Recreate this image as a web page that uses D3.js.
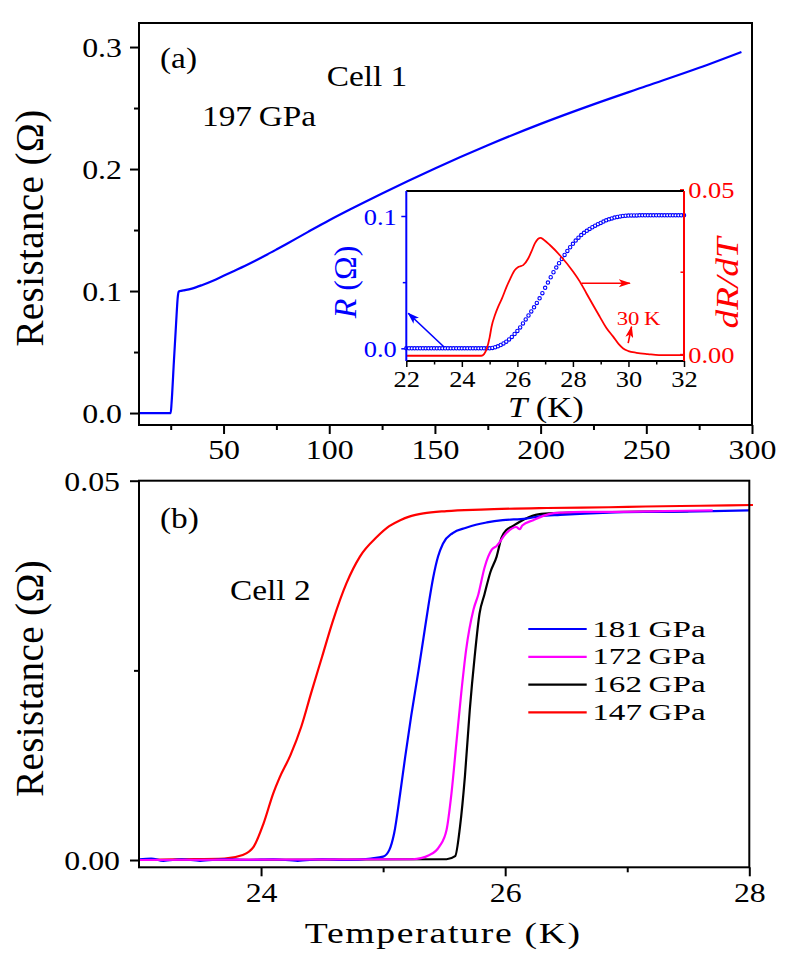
<!DOCTYPE html>
<html><head><meta charset="utf-8">
<script src="https://cdn.jsdelivr.net/npm/d3@7"></script>
<style>body{margin:0;background:#fff}svg{display:block}</style>
</head><body>
<svg id="chart" width="786" height="956"></svg>
<script>
// ---------- DATA ----------
// Panel (a) main curve, Cell 1, 197 GPa
const mainT = [10,25.0,25.4,26.5,27.5,28.4,28.8,29.5,31,35,40,45,50,55,60,65,70,75,80,90,100,110,125,150,175,200,225,250,275,295];
const mainR = [0,0,0.008,0.042,0.072,0.096,0.0995,0.1,0.1005,0.1020,0.1050,0.1085,0.1125,0.1165,0.1205,0.1248,0.1293,0.1340,0.1388,0.1485,0.1580,0.1670,0.1800,0.2005,0.2195,0.2370,0.2530,0.2680,0.2830,0.2960];
const aXTicks = [50,100,150,200,250,300];
const aXMinor = [25,75,125,175,225,275];
const aYTicks = [0,0.1,0.2,0.3];
const aYMinor = [0.05,0.15,0.25];

// Inset: R(T) points and dR/dT
const insetT = [22.0,22.1,22.2,22.3,22.4,22.5,22.6,22.7,22.8,22.9,23.0,23.1,23.2,23.3,23.4,23.5,23.6,23.7,23.8,23.9,24.0,24.1,24.2,24.3,24.4,24.5,24.6,24.7,24.8,24.9,25.0,
  25.1,25.2,25.3,25.4,25.5,25.6,25.7,25.8,25.9,26.0,26.1,26.2,26.3,26.4,26.5,26.6,26.7,26.8,26.9,27.0,27.1,27.2,27.3,27.4,27.5,27.6,27.7,27.8,27.9,28.0,
  28.1,28.2,28.3,28.4,28.5,28.6,28.7,28.8,28.9,29.0,29.1,29.2,29.3,29.4,29.5,29.6,29.7,29.8,29.9,30.0,
  30.1,30.2,30.3,30.4,30.5,30.6,30.7,30.8,30.9,31.0,31.1,31.2,31.3,31.4,31.5,31.6,31.7,31.8,31.9,32.0];
const insetR = [0,0,0,0,0,0,0,0,0,0,0,0,0,0,0,0,0,0,0,0,0,0,0,0,0,0,0,0,0,0,0,
  0.0003,0.0008,0.0015,0.0025,0.0037,0.0050,0.0067,0.0086,0.0108,0.0131,0.0158,0.0188,0.0218,0.0248,0.0279,0.0310,0.0343,0.0378,0.0417,0.0457,0.0497,0.0537,0.0575,0.0610,0.0643,0.0675,0.0706,0.0736,0.0764,0.0790,
  0.0814,0.0836,0.0856,0.0873,0.0888,0.0902,0.0915,0.0927,0.0938,0.0948,0.0958,0.0967,0.0975,0.0982,0.0988,0.0993,0.0997,0.1000,0.1002,0.1003,
  0.1004,0.1004,0.1004,0.1005,0.1005,0.1005,0.1005,0.1005,0.1005,0.1005,0.1005,0.1005,0.1005,0.1005,0.1005,0.1005,0.1005,0.1005,0.1005,0.1005];
const dRdT_T = [22,24.7,24.8,24.9,25.0,25.07,25.2,25.31,25.45,25.61,25.75,25.91,26.05,26.21,26.39,26.5,26.63,26.75,26.83,26.95,27.17,27.53,28.01,28.25,28.49,28.75,28.97,29.2,29.45,29.65,29.81,30.0,30.29,30.7,31.1,32];
const dRdT_V = [-0.0005,-0.0005,0,0.0017,0.005,0.0083,0.012,0.0144,0.017,0.0204,0.023,0.0255,0.0265,0.027,0.029,0.031,0.0336,0.035,0.0353,0.0347,0.0331,0.030,0.025,0.022,0.0184,0.0145,0.0113,0.008,0.0053,0.003,0.0017,0.0009,0.0004,0,-0.0003,-0.0003];
const iXTicks = [22,24,26,28,30,32];
const iXMinor = [23,25,27,29,31];
const iLTicks = [0,0.1], iLMinor = [0.05];
const iRTicks = [0,0.05], iRMinor = [0.025];
// annotation arrows in data units [T, value]
const arrows = [
  {from:[23.37,0.0008], to:[22.07,0.0265], side:"L", color:"#0000ff"},
  {from:[28.31,0.0215], to:[30.05,0.0215], side:"R", color:"#ff0000"},
  {from:[29.99,0.0033], to:[30.11,0.0083], side:"R", color:"#ff0000"}
];

// Panel (b), Cell 2
const b147T = [23,23.3,23.7,23.85,23.94,24.02,24.10,24.15,24.24,24.33,24.41,24.50,24.59,24.70,24.81,24.95,25.05,25.14,25.22,25.33,25.52,25.8,26.34,26.85,27.15,27.6,28.03];
const b147R = [0,0.0001,0.0002,0.00066,0.00176,0.0048,0.0088,0.0108,0.0138,0.0176,0.0220,0.0268,0.0316,0.0365,0.0400,0.0426,0.0440,0.0448,0.0453,0.0457,0.0460,0.0462,0.0464,0.0465,0.0466,0.0467,0.0468];
const b181T = [23,23.1,23.2,23.35,23.5,23.7,23.9,24.1,24.3,24.5,24.7,24.9,25.0,25.05,25.09,25.14,25.18,25.23,25.29,25.33,25.37,25.41,25.45,25.49,25.57,25.68,25.76,25.85,25.98,26.17,26.28,26.45,26.85,27.3,27.7,28.0];
const b181R = [0.0001,0.0002,-0.0001,0.0001,-0.0001,0.0001,0,0.0001,-0.0001,0.0001,0,0.0002,0.00044,0.0013,0.0035,0.0088,0.0135,0.0190,0.0250,0.0292,0.0334,0.0372,0.0400,0.0417,0.0431,0.0438,0.0442,0.0445,0.0448,0.0450,0.0453,0.0455,0.0458,0.0459,0.0460,0.0461];
const b172T = [23,25.24,25.38,25.46,25.52,25.56,25.60,25.64,25.68,25.74,25.78,25.83,25.89,25.93,26.01,26.09,26.12,26.14,26.23,26.36,26.47,26.64,26.85,27.3,27.7];
const b172R = [0,0.0001,0.00066,0.00176,0.004,0.0088,0.0154,0.022,0.0277,0.033,0.0350,0.0385,0.0409,0.0414,0.0431,0.0439,0.0436,0.0441,0.0448,0.0456,0.0458,0.0459,0.0459,0.0460,0.0461];
const b162T = [23,25.52,25.59,25.63,25.67,25.71,25.75,25.79,25.83,25.88,25.93,25.97,26.01,26.06,26.12,26.25,26.36,26.6,27.0,27.5];
const b162R = [0,0.0001,0.0005,0.0044,0.011,0.0198,0.0268,0.0325,0.0350,0.0380,0.0400,0.0425,0.0435,0.0440,0.0446,0.0455,0.0457,0.0458,0.0459,0.0460];
const bXTicks = [24,26,28], bXMinor = [25,27];
const bYTicks = [0,0.05], bYMinor = [0.025];
const legendLabels = ["181\u2009GPa","172\u2009GPa","162\u2009GPa","147\u2009GPa"];
const legendColors = ["#0000ff","#ff00ff","#000000","#ff0000"];

// ---------- DRAWING ----------
const FONT = "'Liberation Serif','Times New Roman',serif";
const svg = d3.select("#chart").style("font-family", FONT);
svg.append("rect").attr("width",786).attr("height",956).attr("fill","#fff");

function label(g, x, y, parts, o) {
  o = o || {};
  let tr = `translate(${x},${y})`;
  if (o.rot) tr += ` rotate(${o.rot})`;
  tr += ` scale(${o.sx||1},1)`;
  const t = g.append("text").attr("transform", tr)
    .attr("text-anchor", o.anchor || "start")
    .attr("font-size", o.size || 29)
    .attr("fill", o.fill || "#000");
  if (o.ls) t.attr("letter-spacing", o.ls);
  if (typeof parts === "string") parts = [[parts, false]];
  parts.forEach(p => t.append("tspan").text(p[0]).attr("font-style", p[1] ? "italic" : null));
  return t;
}

function drawAxis(g, gen, transform, vals, size, fmt, opts) {
  const a = g.append("g").attr("transform", transform)
    .call(gen.tickValues(vals).tickSize(size).tickSizeOuter(0).tickFormat(fmt || (() => "")))
    .attr("font-family", FONT).attr("font-size", opts.fs || 27);
  a.select(".domain").remove();
  a.selectAll(".tick line").attr("stroke", opts.color || "#000").attr("stroke-width", opts.sw || 2);
  const t = a.selectAll(".tick text").attr("fill", opts.color || "#000").attr("dy", null);
  if (fmt) {
    const sx = opts.sx || 1;
    if (opts.pos === "bottom") t.attr("y", opts.off).attr("x", 0);
    else if (opts.pos === "left") t.attr("x", -opts.off / sx).attr("y", opts.vy).attr("text-anchor","end");
    else t.attr("x", opts.off / sx).attr("y", opts.vy).attr("text-anchor","start");
    t.attr("transform", `scale(${sx},1)`);
  }
  return a;
}

// ===== Panel (a) =====
const A = {l:139, r:752, t:23, b:425};
const xA = d3.scaleLinear([10,300],[A.l,A.r]);
const yA = d3.scaleLinear([-0.0098,0.3197],[A.b,A.t]);
const gA = svg.append("g");
drawAxis(gA, d3.axisBottom(xA), `translate(0,${A.b})`, aXMinor, 5, null, {});
drawAxis(gA, d3.axisBottom(xA), `translate(0,${A.b})`, aXTicks, 9, d3.format("d"), {pos:"bottom", off:34.5, sx:1.18});
drawAxis(gA, d3.axisLeft(yA), `translate(${A.l},0)`, aYMinor, 5, null, {});
drawAxis(gA, d3.axisLeft(yA), `translate(${A.l},0)`, aYTicks, 9, d3.format(".1f"), {pos:"left", off:17, vy:9.3, sx:1.18});

const lineA = d3.line().x((d,i)=>xA(mainT[i])).y(d=>yA(d)).curve(d3.curveMonotoneX);
gA.append("path").attr("d", lineA(mainR)).attr("fill","none").attr("stroke","#0000ff").attr("stroke-width",2.2);
gA.append("rect").attr("x",A.l).attr("y",A.t).attr("width",A.r-A.l).attr("height",A.b-A.t)
  .attr("fill","none").attr("stroke","#000").attr("stroke-width",2);

label(gA, 160, 68, "(a)", {sx:1.15});
label(gA, 326.7, 86, "Cell 1", {sx:1.15});
label(gA, 202, 125.7, "197\u2009GPa", {sx:1.15});
label(gA, 43, 228, "Resistance (\u03A9)", {rot:-90, anchor:"middle", size:39, ls:0.4});

// ===== Inset =====
const I = {l:406.3, r:684, t:191, b:361};
const xI = d3.scaleLinear([22,32],[I.l,I.r]);
const yIL = d3.scaleLinear([-0.0096,0.1189],[I.b,I.t]);
const yIR = d3.scaleLinear([-0.0021,0.0495],[I.b,I.t]);
const gI = svg.append("g");
gI.append("rect").attr("x",I.l).attr("y",I.t).attr("width",I.r-I.l).attr("height",I.b-I.t).attr("fill","#fff");
drawAxis(gI, d3.axisBottom(xI), `translate(0,${I.b})`, iXMinor, 3.5, null, {sw:1.5});
drawAxis(gI, d3.axisBottom(xI), `translate(0,${I.b})`, iXTicks, 6, d3.format("d"), {pos:"bottom", off:25.7, sx:1.15, fs:23, sw:1.5});
drawAxis(gI, d3.axisLeft(yIL), `translate(${I.l},0)`, iLMinor, 3.5, null, {color:"#0000ff", sw:1.5});
drawAxis(gI, d3.axisLeft(yIL), `translate(${I.l},0)`, iLTicks, 5, d3.format(".1f"), {pos:"left", off:9.6, vy:8, sx:1.15, fs:23, color:"#0000ff", sw:1.5});
drawAxis(gI, d3.axisRight(yIR), `translate(${I.r},0)`, iRMinor, -3.5, null, {color:"#ff0000", sw:1.5});
drawAxis(gI, d3.axisRight(yIR), `translate(${I.r},0)`, iRTicks, -4, d3.format(".2f"), {pos:"right", off:4.3, vy:8, sx:1.15, fs:23, color:"#ff0000", sw:1.5});

// R(T) open circles
gI.append("g").selectAll("circle").data(insetR).join("circle")
  .attr("cx",(d,i)=>xI(insetT[i])).attr("cy",d=>yIL(d)).attr("r",1.7)
  .attr("fill","#fff").attr("stroke","#0000ff").attr("stroke-width",1.1);
// dR/dT
const lineI = d3.line().x((d,i)=>xI(dRdT_T[i])).y(d=>yIR(d)).curve(d3.curveMonotoneX);
gI.append("path").attr("d", lineI(dRdT_V)).attr("fill","none").attr("stroke","#ff0000").attr("stroke-width",1.8);

// frame of inset
gI.append("line").attr("x1",I.l).attr("x2",I.r).attr("y1",I.t).attr("y2",I.t).attr("stroke","#000").attr("stroke-width",2);
gI.append("line").attr("x1",I.l).attr("x2",I.r).attr("y1",I.b).attr("y2",I.b).attr("stroke","#000").attr("stroke-width",2);
gI.append("line").attr("x1",I.l).attr("x2",I.l).attr("y1",I.t).attr("y2",I.b).attr("stroke","#0000ff").attr("stroke-width",2);
gI.append("line").attr("x1",I.r).attr("x2",I.r).attr("y1",I.t).attr("y2",I.b).attr("stroke","#ff0000").attr("stroke-width",2);

// arrows
const defs = svg.append("defs");
[["arrB","#0000ff"],["arrR","#ff0000"]].forEach(([id,c]) => {
  defs.append("marker").attr("id",id).attr("viewBox","0 0 12 8").attr("refX",11).attr("refY",4)
    .attr("markerWidth",12).attr("markerHeight",8).attr("markerUnits","userSpaceOnUse").attr("orient","auto")
    .append("path").attr("d","M0,0 L12,4 L0,8 L3,4 Z").attr("fill",c);
});
arrows.forEach(a => {
  const ys = a.side === "L" ? yIL : yIR;
  gI.append("line").attr("x1",xI(a.from[0])).attr("y1",ys(a.from[1]))
    .attr("x2",xI(a.to[0])).attr("y2",ys(a.to[1]))
    .attr("stroke",a.color).attr("stroke-width",1.6)
    .attr("marker-end", `url(#${a.color==="#0000ff"?"arrB":"arrR"})`);
});
label(gI, 616.7, 325, "30\u2009K", {size:19, sx:1.2, fill:"#ff0000"});
label(gI, 545.8, 416.7, [["T",true],[" (K)",false]], {size:30, sx:1.15, anchor:"middle"});
label(gI, 356, 282, [["R",true],[" (\u03A9)",false]], {rot:-90, anchor:"middle", size:32, fill:"#0000ff"});
label(gI, 738, 283, [["dR/dT",true]], {rot:-90, anchor:"middle", size:31, sx:1.2, fill:"#ff0000"});

// ===== Panel (b) =====
const B = {l:139, r:749.3, t:480.7, b:867.3};
const xB = d3.scaleLinear([23,28],[B.l,B.r]);
const yB = d3.scaleLinear([-0.00096,0.05],[B.b,B.t]);
const gB = svg.append("g");
drawAxis(gB, d3.axisBottom(xB), `translate(0,${B.b})`, bXMinor, 5, null, {});
drawAxis(gB, d3.axisBottom(xB), `translate(0,${B.b})`, bXTicks, 9, d3.format("d"), {pos:"bottom", off:34.5, sx:1.18});
drawAxis(gB, d3.axisLeft(yB), `translate(${B.l},0)`, bYMinor, 5, null, {});
drawAxis(gB, d3.axisLeft(yB), `translate(${B.l},0)`, bYTicks, 9, d3.format(".2f"), {pos:"left", off:19, vy:9.3, sx:1.18});

const seriesB = [
  {T:b147T, R:b147R, c:"#ff0000"},
  {T:b162T, R:b162R, c:"#000000"},
  {T:b181T, R:b181R, c:"#0000ff"},
  {T:b172T, R:b172R, c:"#ff00ff"}
];
seriesB.forEach(s => {
  const ln = d3.line().x((d,i)=>xB(s.T[i])).y(d=>yB(d)).curve(d3.curveMonotoneX);
  gB.append("path").attr("d", ln(s.R)).attr("fill","none").attr("stroke",s.c).attr("stroke-width",2.2);
});
gB.append("rect").attr("x",B.l).attr("y",B.t).attr("width",B.r-B.l).attr("height",B.b-B.t)
  .attr("fill","none").attr("stroke","#000").attr("stroke-width",2);

label(gB, 160, 528, "(b)", {sx:1.15});
label(gB, 230, 600, "Cell 2", {sx:1.15});
label(gB, 43, 678.3, "Resistance (\u03A9)", {rot:-90, anchor:"middle", size:39, ls:0.4});

const leg = gB.append("g");
legendLabels.forEach((lab,i) => {
  const y = 629 + i*27.8;
  leg.append("line").attr("x1",528.3).attr("x2",586.7).attr("y1",y).attr("y2",y).attr("stroke",legendColors[i]).attr("stroke-width",2.2);
  label(leg, 592.3, y+7.5, lab, {size:24, sx:1.38});
});

// x title
label(svg, 443.3, 943.3, "Temperature (K)", {anchor:"middle", size:29, sx:1.3, ls:1.3});
</script>
</body></html>
